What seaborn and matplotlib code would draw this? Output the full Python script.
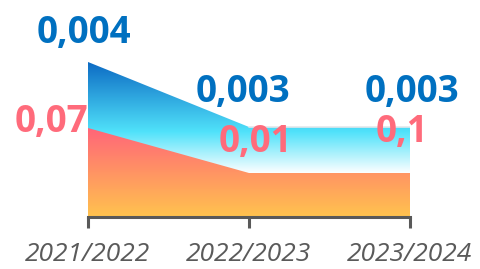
import numpy as np
import matplotlib
matplotlib.use('Agg')
import matplotlib.pyplot as plt
from matplotlib.colors import LinearSegmentedColormap
from matplotlib.patches import Polygon
import seaborn as sns

# data
seasons = ['2021/2022', '2022/2023', '2023/2024']
blue_level = [155, 90, 90]
orange_level = [89, 44, 44]
blue_labels = ['0,004', '0,003', '0,003']
orange_labels = ['0,07', '0,01', '0,1']

# label placement (x shift in category units, y shift in axis units)
blue_dx = [-0.025, -0.04, 0.01]
blue_dy = [19, 25, 25]
orange_dx = [-0.23, 0.04, -0.05]
orange_dy = [-4, 21, 31]

sns.set_theme(style='white')
plt.rcParams['font.family'] = ['Open Sans', 'DejaVu Sans']

fig = plt.figure(figsize=(4.8, 2.69), dpi=100)
ax = fig.add_axes([88 / 480, (269 - 217) / 269, 322 / 480, 217 / 269])
ax.set_xlim(0, 2)
ax.set_ylim(0, 217)

x = np.arange(len(seasons))


def gradient_area(ax, x, y, stops, top):
    verts = [(x[0], 0)] + list(zip(x, y)) + [(x[-1], 0)]
    patch = Polygon(verts, closed=True, facecolor='none', edgecolor='none')
    ax.add_patch(patch)
    cmap = LinearSegmentedColormap.from_list('g', stops)
    grad = np.linspace(0, 1, 256).reshape(-1, 1)
    im = ax.imshow(grad, cmap=cmap, aspect='auto', origin='upper',
                   extent=[x[0], x[-1], 0, top], interpolation='bilinear')
    im.set_clip_path(patch)


gradient_area(ax, x, blue_level,
              [(0, '#0d6bc4'), (0.45, '#50e2fa'), (0.72, '#ffffff'), (1, '#ffffff')],
              max(blue_level))
gradient_area(ax, x, orange_level,
              [(0, '#ff6579'), (1, '#ffc34e')],
              max(orange_level))

sns.lineplot(x=x[1:], y=blue_level[1:], ax=ax, color='#e4e7ea', lw=1.2)

for i in range(len(seasons)):
    ax.text(x[i] + blue_dx[i], blue_level[i] + blue_dy[i], blue_labels[i],
            ha='center', va='baseline', fontsize=26.5, fontweight='bold',
            color='#0070c0')
    ax.text(x[i] + orange_dx[i], orange_level[i] + orange_dy[i], orange_labels[i],
            ha='center', va='baseline', fontsize=26.5, fontweight='bold',
            color='#ff6b7b')

for s in ['left', 'right', 'top']:
    ax.spines[s].set_visible(False)
ax.spines['bottom'].set_color('#595959')
ax.spines['bottom'].set_linewidth(2.2)
ax.set_yticks([])
ax.set_xticks(x)
ax.set_xticklabels(seasons, fontsize=19, fontstyle='italic', color='#5a5a5a')
ax.tick_params(axis='x', direction='out', length=8, width=2.2, color='#595959',
               pad=10, bottom=True)
ax.grid(False)

fig.savefig('out.png', dpi=100)
